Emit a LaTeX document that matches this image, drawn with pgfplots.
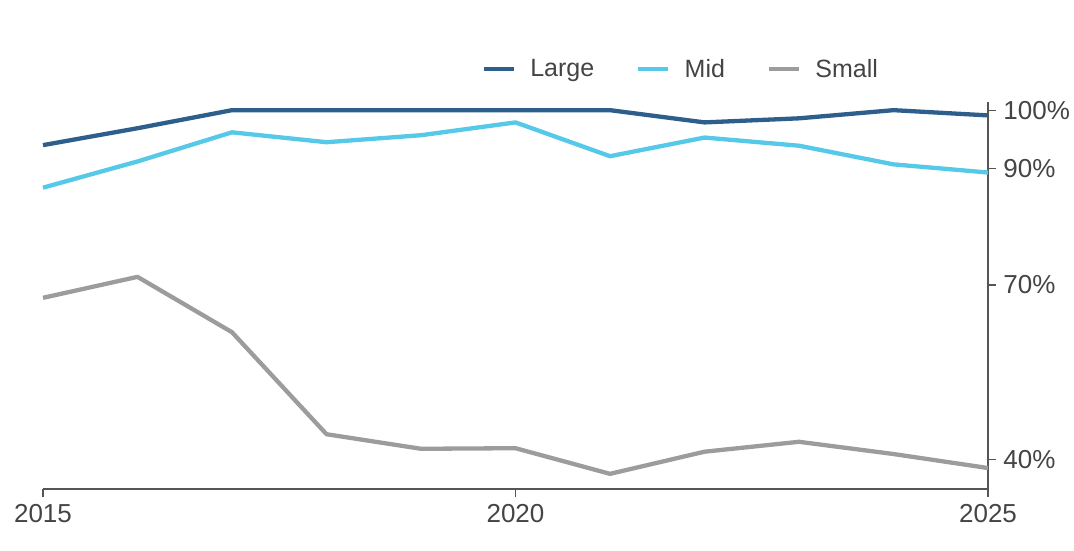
\documentclass[border=0pt]{standalone}
\usepackage{pgfplots}
\pgfplotsset{compat=1.18}
\usepackage{fontspec}
\setmainfont{Liberation Sans}
\definecolor{cLarge}{HTML}{2E5F8C}
\definecolor{cMid}{HTML}{56C8E8}
\definecolor{cSmall}{HTML}{9C9C9C}
\definecolor{cAxis}{HTML}{555555}
\definecolor{cText}{HTML}{444444}
\begin{document}
\begin{tikzpicture}
\path[use as bounding box] (-43pt,-61pt) rectangle (1031pt,489pt);
\begin{axis}[
  at={(0,0)}, anchor=south west,
  scale only axis, width=945pt, height=387pt,
  xmin=2015, xmax=2025, ymin=35, ymax=101.4,
  axis x line=bottom, axis y line=right,
  axis line style={-, cAxis, line width=1.2pt},
  tick align=outside, major tick length=8pt,
  tick style={cAxis, line width=1.2pt},
  xtick={2015,2020,2025}, xticklabels={2015,2020,2025},
  ytick={40,70,90,100}, yticklabels={40\%,70\%,90\%,100\%},
  ticklabel style={font=\fontsize{26}{30}\selectfont, text=cText},
  xticklabel style={yshift=-4pt},
  yticklabel style={xshift=4pt},
  clip=false,
  legend columns=3,
  legend style={draw=none, fill=none, at={(0.675,1.085)}, anchor=center,
    font=\fontsize{25}{30}\selectfont, text=cText,
    /tikz/every odd column/.append style={column sep=12pt},
    /tikz/every even column/.append style={column sep=40pt}},
  legend image code/.code={\draw[#1, line width=4.5pt] (0pt,0pt) -- (30pt,0pt);},
  every axis plot/.append style={line width=4.3pt, line join=round},
]
\addplot[cLarge] coordinates {(2015,94.0) (2016,96.9) (2017,100) (2018,100) (2019,100) (2020,100) (2021,100) (2022,97.9) (2023,98.6) (2024,100) (2025,99.1)};
\addlegendentry{Large}
\addplot[cMid] coordinates {(2015,86.7) (2016,91.2) (2017,96.2) (2018,94.5) (2019,95.7) (2020,97.9) (2021,92.1) (2022,95.3) (2023,93.9) (2024,90.7) (2025,89.3)};
\addlegendentry{Mid}
\addplot[cSmall] coordinates {(2015,67.8) (2016,71.4) (2017,61.9) (2018,44.4) (2019,41.9) (2020,42.0) (2021,37.6) (2022,41.4) (2023,43.1) (2024,41.0) (2025,38.6)};
\addlegendentry{Small}
\end{axis}
\end{tikzpicture}
\end{document}
